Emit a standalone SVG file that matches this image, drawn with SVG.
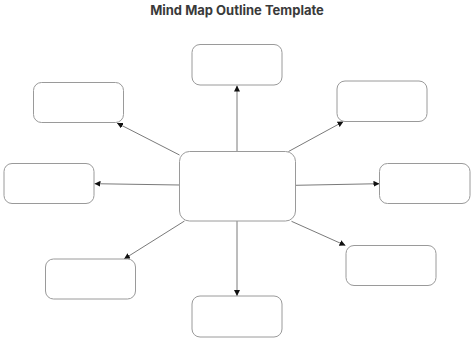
<svg xmlns="http://www.w3.org/2000/svg" width="474" height="341" viewBox="0 0 474 341">
<defs>
<style>
.node{fill:#fff;stroke:#9a9a9a;stroke-width:1}
.edge{stroke:#7a7a7a;stroke-width:1;fill:none;marker-end:url(#ah)}
.title{font-family:Inter,"Liberation Sans",sans-serif;font-weight:700;font-size:13px;fill:#3a3a3a}
</style>
<marker id="ah" viewBox="0 0 10 10" refX="10" refY="5" markerWidth="6" markerHeight="6" markerUnits="userSpaceOnUse" orient="auto">
<path d="M0,0 L10,5 L0,10 Z" fill="#111"/>
</marker>
</defs>
<rect width="474" height="341" fill="#fff"/>
<text class="title" x="237" y="15" text-anchor="middle">Mind Map Outline Template</text>
<g id="connectors">
<line class="edge" x1="237" y1="151.5" x2="237" y2="85.5"/>
<line class="edge" x1="179.5" y1="155" x2="117" y2="123"/>
<line class="edge" x1="288.5" y1="151.5" x2="343.5" y2="121.5"/>
<line class="edge" x1="179.5" y1="185" x2="94.5" y2="183.7"/>
<line class="edge" x1="295.5" y1="185.3" x2="379.5" y2="183.7"/>
<line class="edge" x1="184.5" y1="221" x2="124" y2="259"/>
<line class="edge" x1="237" y1="221" x2="237" y2="296"/>
<line class="edge" x1="291.5" y1="221.3" x2="345.5" y2="245.5"/>
</g>
<g id="center"><rect class="node" x="179.5" y="151.5" width="116" height="69.5" rx="10"/></g>
<g id="top"><rect class="node" x="192" y="44.5" width="90" height="40.5" rx="8"/></g>
<g id="top-left"><rect class="node" x="33.5" y="82.5" width="90" height="40" rx="8"/></g>
<g id="top-right"><rect class="node" x="337" y="81" width="90" height="40.5" rx="8"/></g>
<g id="left"><rect class="node" x="4" y="163.5" width="90" height="40" rx="8"/></g>
<g id="right"><rect class="node" x="379.5" y="163.5" width="90.5" height="40" rx="8"/></g>
<g id="bottom-left"><rect class="node" x="45.5" y="259" width="90" height="40" rx="8"/></g>
<g id="bottom"><rect class="node" x="192" y="296" width="90" height="41" rx="8"/></g>
<g id="bottom-right"><rect class="node" x="346" y="245.5" width="90" height="40" rx="8"/></g>
</svg>
